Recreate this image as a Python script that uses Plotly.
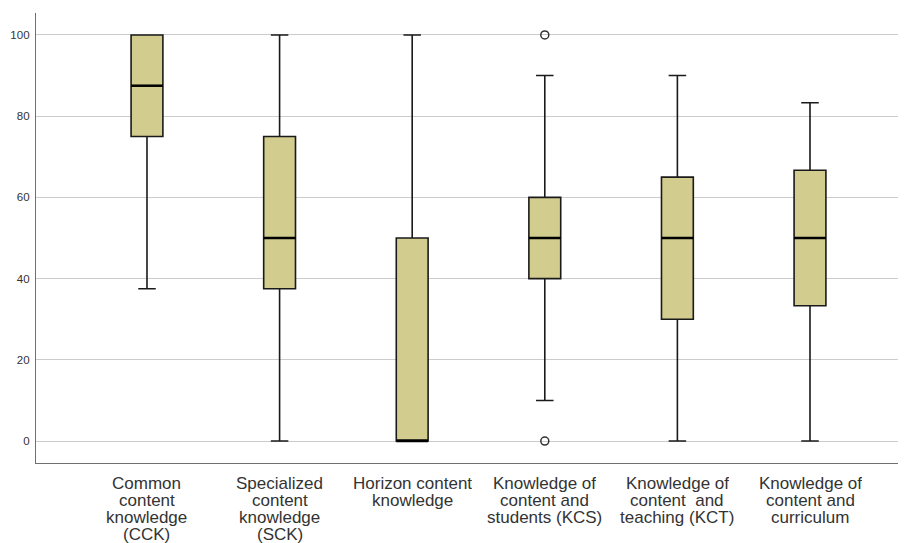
import plotly.graph_objects as go

categories = [
    "Common<br>content<br>knowledge<br>(CCK)",
    "Specialized<br>content<br>knowledge<br>(SCK)",
    "Horizon content<br>knowledge",
    "Knowledge of<br>content and<br>students (KCS)",
    "Knowledge of<br>content  and<br>teaching (KCT)",
    "Knowledge of<br>content and<br>curriculum",
]
q1 = [75, 37.5, 0, 40, 30, 33.3]
median = [87.5, 50, 0, 50, 50, 50]
q3 = [100, 75, 50, 60, 65, 66.7]
lower = [37.5, 0, 0, 10, 0, 0]
upper = [100, 100, 100, 90, 90, 83.3]
outlier_cat = [3, 3]
outlier_val = [100, 0]
yticks = [0, 20, 40, 60, 80, 100]

BOX_W = 0.24
FILL = "#d3cc8f"

fig = go.Figure()
pos = list(range(len(categories)))
for i in pos:
    fig.add_trace(go.Box(
        x=[i], q1=[q1[i]], median=[median[i]], q3=[q3[i]],
        lowerfence=[lower[i]], upperfence=[upper[i]],
        width=BOX_W, whiskerwidth=0.55,
        fillcolor=FILL, line=dict(color="#1a1a1a", width=1.6),
        boxpoints=False, showlegend=False, hoverinfo="skip",
    ))
    fig.add_trace(go.Scatter(
        x=[i - BOX_W / 2, i + BOX_W / 2], y=[median[i], median[i]],
        mode="lines", line=dict(color="#000000", width=2.5),
        showlegend=False, hoverinfo="skip",
    ))

fig.add_trace(go.Scatter(
    x=outlier_cat, y=outlier_val, mode="markers",
    marker=dict(symbol="circle-open", size=8, color="#333333",
                line=dict(width=1.5, color="#333333")),
    showlegend=False, hoverinfo="skip",
))

# category labels, one annotation per line for tight line spacing
for i, label in zip(pos, categories):
    for k, line in enumerate(label.split("<br>")):
        fig.add_annotation(
            x=i, xref="x", y=0, yref="paper", yanchor="middle",
            yshift=-(20 + 17 * k), text=line, showarrow=False,
            height=17, borderpad=0,
            font=dict(size=17, color="#333333",
                      family="Liberation Sans, Arial, sans-serif"),
        )

fig.update_layout(
    width=898, height=535,
    margin=dict(l=28, r=0, t=5, b=80),
    paper_bgcolor="white", plot_bgcolor="white",
    font=dict(family="Liberation Sans, Arial, sans-serif", color="#333333"),
)
fig.update_xaxes(
    range=[-0.837, 5.724], tickmode="array", tickvals=pos,
    showticklabels=False, showgrid=False, zeroline=False,
    showline=True, linecolor="#707070", linewidth=1.3, automargin=False,
)
fig.update_yaxes(
    range=[-5.4, 105.4], tickvals=yticks, tickfont=dict(size=11.5, color="#333333"),
    showgrid=True, gridcolor="#cccccc", gridwidth=1.2, zeroline=False,
    showline=True, linecolor="#707070", linewidth=1.3, automargin=False,
    ticks="outside", ticklen=3, tickcolor="rgba(0,0,0,0)",
)
fig.write_html("out.html")
